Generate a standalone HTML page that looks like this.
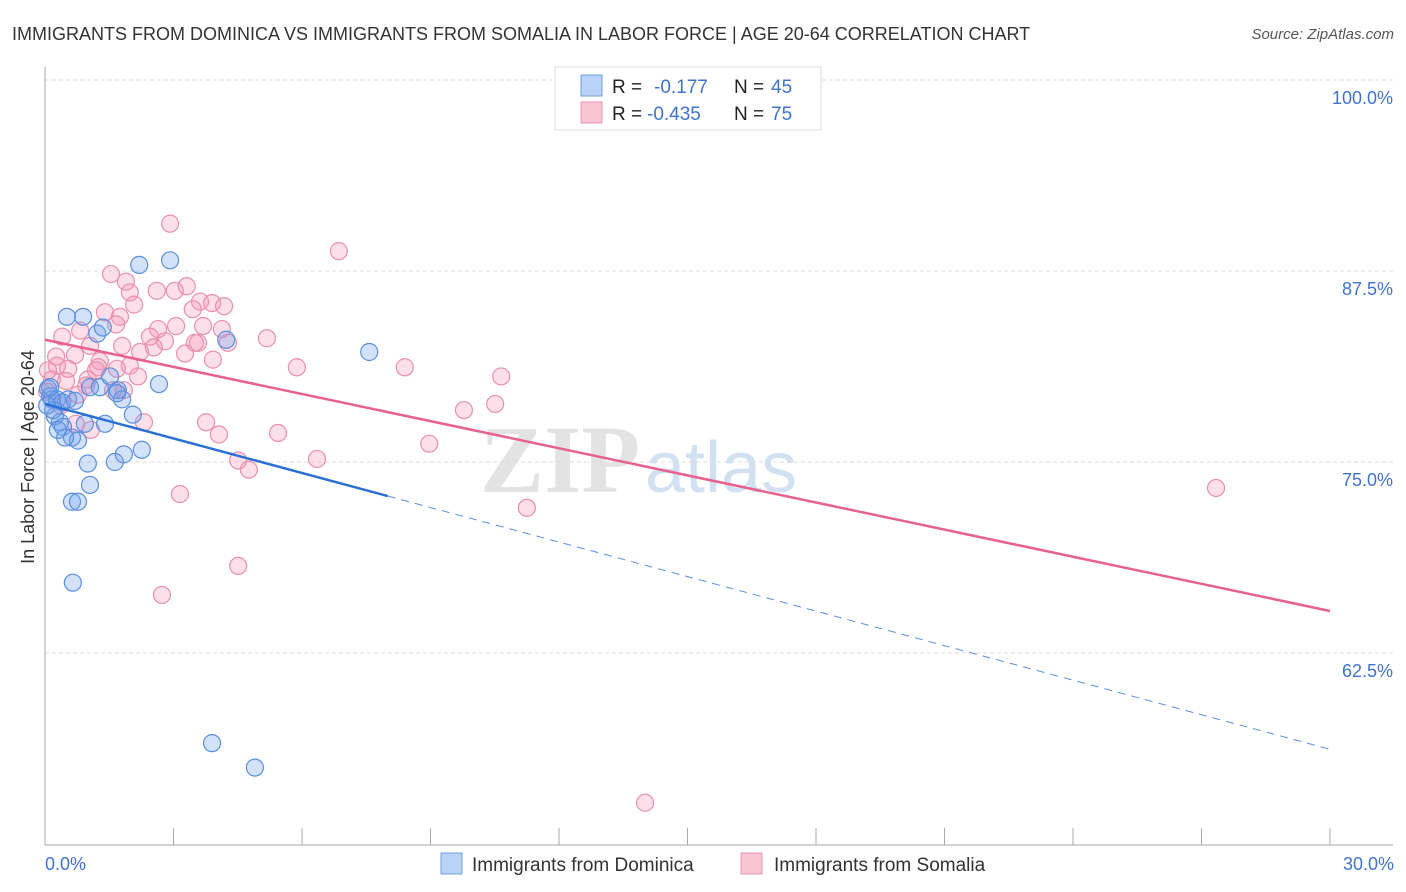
<!DOCTYPE html>
<html><head><meta charset="utf-8"><style>
body{margin:0;background:#fff;font-family:"Liberation Sans",sans-serif;}
svg{display:block}
</style></head><body>
<svg width="1406" height="892" viewBox="0 0 1406 892" xmlns="http://www.w3.org/2000/svg">
<text x="12" y="40" font-size="18" fill="#333">IMMIGRANTS FROM DOMINICA VS IMMIGRANTS FROM SOMALIA IN LABOR FORCE | AGE 20-64 CORRELATION CHART</text>
<text x="1394" y="39" font-size="15" font-style="italic" fill="#555" text-anchor="end">Source: ZipAtlas.com</text>
<text x="640" y="492" font-size="96" font-family="Liberation Serif,serif" font-weight="bold" fill="#ddd" text-anchor="end" opacity="0.8">ZIP</text>
<text x="645" y="492" font-size="72" fill="#c8daf0" opacity="0.8">atlas</text>
<g id="grid"></g>
<g id="axes"></g>
<g id="marks"></g>
<text transform="translate(34,457) rotate(-90)" font-size="18" fill="#333" text-anchor="middle">In Labor Force | Age 20-64</text>
<text x="45" y="870" font-size="18" fill="#3f73d0">0.0%</text>
<text x="1394" y="870" font-size="18" fill="#3f73d0" text-anchor="end">30.0%</text>
<g>
<rect x="555" y="67" width="266" height="63" fill="#fff" stroke="#ddd"/>
<rect x="581" y="75" width="21" height="21" fill="#b9d3f7" stroke="#6c9ee6"/>
<rect x="581" y="102" width="21" height="21" fill="#f9c5d5" stroke="#ea93b0"/>
<text x="612" y="93" font-size="19" fill="#222">R =</text><text x="654" y="93" font-size="19" fill="#3f73d0">-0.177</text>
<text x="734" y="93" font-size="19" fill="#222">N =</text><text x="771" y="93" font-size="19" fill="#3f73d0">45</text>
<text x="612" y="120" font-size="19" fill="#222">R =</text><text x="647" y="120" font-size="19" fill="#3f73d0">-0.435</text>
<text x="734" y="120" font-size="19" fill="#222">N =</text><text x="771" y="120" font-size="19" fill="#3f73d0">75</text>
</g>
<g>
<rect x="441" y="853" width="21" height="21" fill="#b9d3f7" stroke="#6c9ee6"/>
<text x="472" y="871" font-size="19" fill="#333">Immigrants from Dominica</text>
<rect x="741" y="853" width="21" height="21" fill="#f9c5d5" stroke="#ea93b0"/>
<text x="774" y="871" font-size="19" fill="#333">Immigrants from Somalia</text>
</g>
</svg>
<script>
const yTicks=[100,87.5,75,62.5];
const yTickLabels=["100.0%","87.5%","75.0%","62.5%"];
const xTicks=[0,3,6,9,12,15,18,21,24,27,30];
const blueX=[0.07,0.12,0.16,0.23,0.28,0.35,0.42,0.40,0.51,0.89,1.22,1.35,0.63,0.77,0.47,1.00,1.05,0.63,0.77,0.65,1.05,1.28,1.52,1.70,1.80,2.05,1.40,1.63,1.84,2.26,2.66,2.20,2.92,4.23,7.57,3.90,4.90,0.05,0.19,0.30,0.93,0.54,0.70,1.68,0.12];
const blueY=[79.8,79.3,79.1,78.0,79.1,77.6,77.3,78.9,84.5,84.5,83.4,83.8,76.6,76.4,76.6,74.9,73.5,72.4,72.4,67.1,79.9,79.9,80.6,79.7,79.1,78.1,77.5,75.0,75.5,75.8,80.1,87.9,88.2,83.0,82.2,56.6,55.0,78.7,78.4,77.1,77.5,79.1,79.0,79.5,79.9];
const pinkX=[2.92,6.86,1.54,1.89,1.98,2.61,3.03,3.31,2.08,3.62,3.90,4.18,3.45,1.40,1.75,3.69,3.06,4.13,0.82,1.66,2.64,2.45,0.40,1.05,1.80,2.80,3.57,3.50,4.27,5.18,2.22,2.54,3.27,3.92,0.26,0.70,1.28,1.98,0.28,0.54,1.24,1.68,5.88,8.40,10.65,2.17,0.16,0.49,0.96,1.84,0.05,0.77,1.59,0.37,9.78,10.51,2.31,1.07,3.76,4.06,5.44,8.97,4.51,4.76,6.35,3.15,11.25,27.34,4.51,2.73,14.01,0.72,1.19,0.07,1.00];
const pinkY=[90.6,88.8,87.3,86.8,86.1,86.2,86.2,86.5,85.3,85.5,85.4,85.2,85.0,84.8,84.5,83.9,83.9,83.7,83.6,84.0,83.7,83.2,83.2,82.6,82.6,82.9,82.8,82.8,82.8,83.1,82.2,82.5,82.1,81.7,81.9,82.0,81.6,81.3,81.3,81.1,81.2,81.1,81.2,81.2,80.6,80.6,80.4,80.3,80.0,79.7,79.6,79.4,79.7,78.7,78.4,78.8,77.6,77.1,77.6,76.8,76.9,76.2,75.1,74.5,75.2,72.9,72.0,73.3,68.2,66.3,52.7,77.5,81.0,81.0,80.4];
const blueTrend=[78.8,56.2];
const pinkTrend=[83.0,65.25];
const blueSolidEnd=8.0;
const NS="http://www.w3.org/2000/svg";
const X0=45,X1=1330,Ytop=80,pxPer=191/12.5;
const sx=v=>X0+(v/30)*(X1-X0);
const sy=v=>Ytop+(100-v)*pxPer;
function mk(tag,attrs,parent){const e=document.createElementNS(NS,tag);for(const k in attrs)e.setAttribute(k,attrs[k]);parent.appendChild(e);return e;}
const grid=document.getElementById('grid'),axes=document.getElementById('axes'),marks=document.getElementById('marks');
yTicks.forEach((t,i)=>{
 const l=mk('line',{x1:X0,x2:1393,y1:sy(t),y2:sy(t),stroke:'#ddd','stroke-dasharray':'4,3'},grid);
 
 
 const tx=mk('text',{x:1393,y:sy(t)+24,'font-size':18,fill:'#3f73d0','text-anchor':'end'},grid);
 tx.textContent=yTickLabels[i];
 
 
});
const ax=mk('line',{x1:X0,x2:1393,y1:845,y2:845,stroke:'#aaa'},axes);


const ay=mk('line',{x1:X0,x2:X0,y1:67,y2:845,stroke:'#aaa'},axes);


xTicks.forEach(t=>{
 const l=mk('line',{x1:sx(t),x2:sx(t),y1:828,y2:845,stroke:'#aaa'},axes);
 
 
});
function dots(xs,ys,fill,stroke,name){xs.forEach((x,i)=>{
 const c=mk('circle',{cx:sx(x),cy:sy(ys[i]),r:8.5,fill:fill,stroke:stroke,'stroke-width':1.2},marks);
 
 
});}
dots(pinkX,pinkY,'rgba(244,150,180,0.3)','#e890ad','somalia-point');
dots(blueX,blueY,'rgba(110,160,235,0.3)','#5a8fe0','dominica-point');
const lin=(tr,x)=>tr[0]+(tr[1]-tr[0])*x/30;
const pl=mk('line',{x1:sx(0),y1:sy(lin(pinkTrend,0)),x2:sx(30),y2:sy(lin(pinkTrend,30)),stroke:'#e8608d','stroke-width':2.5},marks);


const bl=mk('line',{x1:sx(0),y1:sy(lin(blueTrend,0)),x2:sx(blueSolidEnd),y2:sy(lin(blueTrend,blueSolidEnd)),stroke:'#2a6fd6','stroke-width':2.5},marks);


const bd=mk('line',{x1:sx(blueSolidEnd),y1:sy(lin(blueTrend,blueSolidEnd)),x2:sx(30),y2:sy(lin(blueTrend,30)),stroke:'#5a8fe0','stroke-width':1,'stroke-dasharray':'8,6'},marks);


</script>
</body></html>
